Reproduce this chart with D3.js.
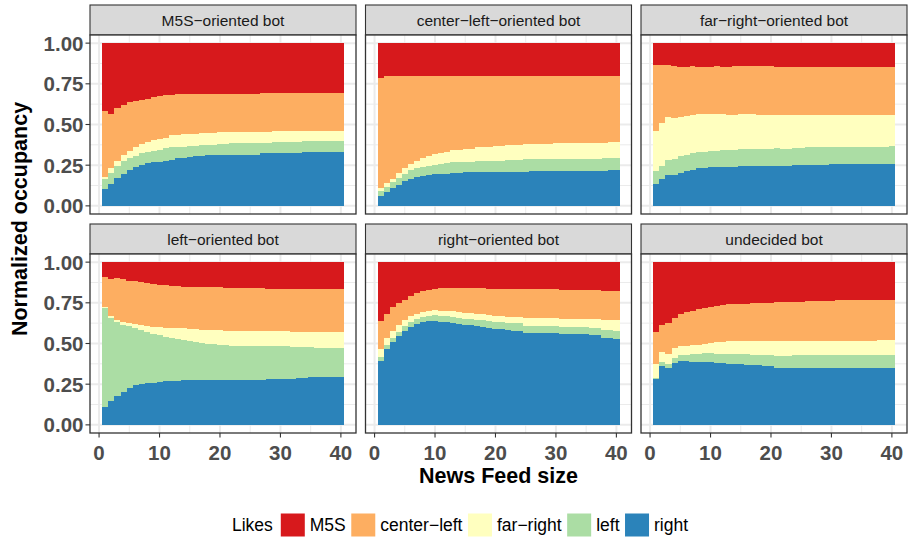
<!DOCTYPE html>
<html><head><meta charset="utf-8">
<script src="https://cdn.jsdelivr.net/npm/d3@7"></script>
<style>body{margin:0;background:#fff} svg{display:block}</style>
</head><body><svg id="chart" width="909" height="544"></svg>
<script>
// ---------- DATA ----------
const newsFeedSize = [1,2,3,4,5,6,7,8,9,10,11,12,13,14,15,16,17,18,19,20,21,22,23,24,25,26,27,28,29,30,31,32,33,34,35,36,37,38,39,40];
const stackOrder = ["right","left","far-right","center-left","M5S"];       // bottom -> top
const legendOrder = ["M5S","center-left","far-right","left","right"];
const legendTitle = "Likes";
const panelTitles = ["M5S\u2212oriented bot","center\u2212left\u2212oriented bot","far\u2212right\u2212oriented bot","left\u2212oriented bot","right\u2212oriented bot","undecided bot"];
const legendLabels = {"M5S":"M5S","center-left":"center\u2212left","far-right":"far\u2212right","left":"left","right":"right"};
const yTicks = [0,0.25,0.5,0.75,1];
const yTickLabels = ["0.00","0.25","0.50","0.75","1.00"];
const xTicks = [0,10,20,30,40];
const xTitle = "News Feed size";
const yTitle = "Normalized occupancy";

// M5S-oriented bot
const m5sBot_right = [0.102,0.133,0.169,0.194,0.218,0.237,0.249,0.261,0.267,0.271,0.278,0.284,0.292,0.292,0.300,0.304,0.304,0.310,0.310,0.310,0.314,0.314,0.314,0.314,0.314,0.314,0.322,0.322,0.322,0.322,0.322,0.322,0.322,0.329,0.329,0.329,0.329,0.329,0.329,0.329];
const m5sBot_left = [0.061,0.067,0.074,0.079,0.074,0.067,0.073,0.068,0.068,0.070,0.075,0.075,0.071,0.071,0.069,0.065,0.069,0.063,0.063,0.068,0.064,0.070,0.070,0.070,0.070,0.070,0.066,0.066,0.068,0.068,0.068,0.068,0.068,0.067,0.067,0.067,0.067,0.067,0.067,0.067];
const m5sBot_farRight = [0.013,0.031,0.030,0.037,0.043,0.055,0.056,0.061,0.067,0.067,0.067,0.074,0.070,0.076,0.070,0.070,0.072,0.072,0.072,0.073,0.073,0.067,0.067,0.067,0.067,0.067,0.063,0.063,0.067,0.067,0.067,0.067,0.067,0.067,0.067,0.067,0.067,0.067,0.067,0.067];
const m5sBot_centerLeft = [0.406,0.336,0.329,0.312,0.306,0.288,0.275,0.269,0.267,0.268,0.262,0.251,0.257,0.251,0.251,0.251,0.245,0.245,0.245,0.239,0.239,0.239,0.239,0.239,0.239,0.239,0.243,0.243,0.239,0.239,0.239,0.239,0.239,0.233,0.233,0.233,0.233,0.233,0.233,0.233];
const m5sBot_M5S = [0.418,0.433,0.398,0.378,0.359,0.353,0.347,0.341,0.331,0.324,0.318,0.316,0.310,0.310,0.310,0.310,0.310,0.310,0.310,0.310,0.310,0.310,0.310,0.310,0.310,0.310,0.306,0.306,0.304,0.304,0.304,0.304,0.304,0.304,0.304,0.304,0.304,0.304,0.304,0.304];

// center-left-oriented bot
const clBot_right = [0.059,0.084,0.108,0.127,0.151,0.163,0.176,0.182,0.188,0.194,0.194,0.194,0.200,0.200,0.206,0.206,0.206,0.206,0.206,0.206,0.206,0.206,0.206,0.206,0.206,0.212,0.212,0.212,0.212,0.212,0.212,0.212,0.212,0.212,0.212,0.212,0.212,0.212,0.218,0.218];
const clBot_left = [0.031,0.030,0.037,0.042,0.043,0.055,0.055,0.055,0.055,0.055,0.061,0.067,0.067,0.067,0.061,0.061,0.067,0.067,0.067,0.067,0.067,0.074,0.074,0.074,0.080,0.074,0.074,0.074,0.074,0.074,0.074,0.074,0.074,0.074,0.074,0.074,0.074,0.080,0.074,0.074];
const clBot_farRight = [0.018,0.025,0.018,0.031,0.037,0.037,0.042,0.055,0.061,0.067,0.067,0.068,0.074,0.074,0.080,0.080,0.086,0.086,0.086,0.092,0.092,0.091,0.091,0.091,0.092,0.092,0.092,0.092,0.092,0.098,0.098,0.098,0.098,0.098,0.098,0.098,0.098,0.092,0.098,0.098];
const clBot_centerLeft = [0.680,0.659,0.635,0.598,0.567,0.543,0.525,0.506,0.494,0.482,0.476,0.469,0.457,0.457,0.451,0.451,0.439,0.439,0.439,0.433,0.433,0.427,0.427,0.427,0.420,0.420,0.420,0.420,0.420,0.414,0.414,0.414,0.414,0.414,0.414,0.414,0.414,0.414,0.408,0.408];
const clBot_M5S = [0.212,0.202,0.202,0.202,0.202,0.202,0.202,0.202,0.202,0.202,0.202,0.202,0.202,0.202,0.202,0.202,0.202,0.202,0.202,0.202,0.202,0.202,0.202,0.202,0.202,0.202,0.202,0.202,0.202,0.202,0.202,0.202,0.202,0.202,0.202,0.202,0.202,0.202,0.202,0.202];

// far-right-oriented bot
const frBot_right = [0.133,0.163,0.188,0.188,0.200,0.212,0.218,0.231,0.231,0.237,0.237,0.237,0.237,0.237,0.243,0.243,0.243,0.243,0.243,0.243,0.243,0.243,0.243,0.249,0.249,0.249,0.249,0.249,0.249,0.255,0.255,0.255,0.255,0.255,0.255,0.255,0.255,0.255,0.255,0.255];
const frBot_left = [0.079,0.080,0.092,0.098,0.104,0.098,0.104,0.098,0.098,0.098,0.098,0.104,0.104,0.104,0.104,0.104,0.104,0.104,0.104,0.104,0.110,0.104,0.104,0.104,0.104,0.110,0.110,0.110,0.110,0.104,0.104,0.104,0.104,0.104,0.104,0.104,0.104,0.104,0.104,0.110];
const frBot_farRight = [0.251,0.269,0.269,0.257,0.245,0.245,0.239,0.238,0.238,0.232,0.232,0.226,0.220,0.220,0.220,0.220,0.220,0.214,0.214,0.214,0.208,0.214,0.214,0.208,0.208,0.202,0.202,0.202,0.202,0.202,0.202,0.202,0.202,0.202,0.202,0.202,0.202,0.202,0.202,0.196];
const frBot_centerLeft = [0.404,0.355,0.318,0.318,0.308,0.300,0.300,0.288,0.288,0.288,0.294,0.288,0.294,0.300,0.294,0.294,0.294,0.300,0.300,0.300,0.294,0.294,0.294,0.294,0.294,0.294,0.294,0.294,0.294,0.294,0.294,0.294,0.294,0.294,0.294,0.294,0.294,0.294,0.294,0.294];
const frBot_M5S = [0.133,0.133,0.133,0.139,0.145,0.145,0.139,0.145,0.145,0.145,0.139,0.145,0.145,0.139,0.139,0.139,0.139,0.139,0.139,0.139,0.145,0.145,0.145,0.145,0.145,0.145,0.145,0.145,0.145,0.145,0.145,0.145,0.145,0.145,0.145,0.145,0.145,0.145,0.145,0.145];

// left-oriented bot
const lBot_right = [0.111,0.148,0.178,0.203,0.227,0.242,0.252,0.258,0.260,0.264,0.270,0.270,0.270,0.277,0.277,0.277,0.277,0.277,0.277,0.277,0.277,0.277,0.277,0.277,0.277,0.277,0.277,0.283,0.283,0.283,0.283,0.283,0.289,0.289,0.295,0.295,0.295,0.295,0.295,0.295];
const lBot_left = [0.610,0.510,0.455,0.412,0.382,0.354,0.332,0.314,0.299,0.289,0.271,0.265,0.259,0.246,0.239,0.233,0.227,0.221,0.221,0.215,0.215,0.209,0.209,0.209,0.209,0.209,0.209,0.203,0.203,0.203,0.203,0.197,0.191,0.191,0.185,0.178,0.178,0.178,0.178,0.178];
const lBot_farRight = [0.004,0.012,0.012,0.018,0.018,0.025,0.031,0.037,0.043,0.049,0.055,0.061,0.067,0.073,0.074,0.080,0.080,0.086,0.086,0.092,0.086,0.092,0.092,0.092,0.092,0.092,0.092,0.092,0.092,0.092,0.092,0.092,0.092,0.092,0.092,0.099,0.099,0.099,0.099,0.099];
const lBot_centerLeft = [0.185,0.228,0.259,0.265,0.258,0.264,0.264,0.264,0.265,0.259,0.265,0.259,0.259,0.252,0.258,0.258,0.264,0.264,0.264,0.264,0.264,0.264,0.264,0.264,0.264,0.264,0.264,0.258,0.258,0.258,0.258,0.264,0.264,0.264,0.264,0.264,0.264,0.264,0.264,0.264];
const lBot_M5S = [0.090,0.102,0.096,0.102,0.115,0.115,0.121,0.127,0.133,0.139,0.139,0.145,0.145,0.152,0.152,0.152,0.152,0.152,0.152,0.152,0.158,0.158,0.158,0.158,0.158,0.158,0.158,0.164,0.164,0.164,0.164,0.164,0.164,0.164,0.164,0.164,0.164,0.164,0.164,0.164];

// right-oriented bot
const rBot_right = [0.393,0.467,0.510,0.547,0.578,0.602,0.621,0.633,0.639,0.639,0.633,0.633,0.627,0.621,0.615,0.615,0.609,0.602,0.596,0.590,0.590,0.584,0.578,0.572,0.566,0.566,0.566,0.566,0.566,0.566,0.559,0.559,0.559,0.559,0.559,0.553,0.553,0.535,0.535,0.529];
const rBot_left = [0.025,0.025,0.025,0.025,0.031,0.031,0.031,0.031,0.031,0.037,0.037,0.037,0.037,0.037,0.037,0.037,0.036,0.043,0.043,0.043,0.043,0.043,0.046,0.049,0.043,0.043,0.043,0.043,0.043,0.043,0.043,0.043,0.043,0.043,0.043,0.043,0.043,0.049,0.049,0.049];
const rBot_farRight = [0.049,0.043,0.043,0.043,0.036,0.037,0.030,0.031,0.031,0.031,0.031,0.031,0.037,0.037,0.037,0.037,0.037,0.037,0.037,0.037,0.037,0.037,0.037,0.037,0.049,0.049,0.049,0.049,0.049,0.049,0.050,0.050,0.050,0.050,0.050,0.056,0.056,0.061,0.061,0.067];
const rBot_centerLeft = [0.172,0.147,0.147,0.135,0.123,0.123,0.129,0.129,0.129,0.129,0.141,0.141,0.141,0.147,0.153,0.153,0.160,0.160,0.160,0.166,0.166,0.172,0.172,0.172,0.178,0.178,0.178,0.178,0.178,0.178,0.178,0.178,0.178,0.178,0.178,0.178,0.178,0.179,0.179,0.179];
const rBot_M5S = [0.361,0.318,0.275,0.250,0.232,0.207,0.189,0.176,0.170,0.164,0.158,0.158,0.158,0.158,0.158,0.158,0.158,0.158,0.164,0.164,0.164,0.164,0.164,0.164,0.164,0.164,0.164,0.164,0.164,0.164,0.170,0.170,0.170,0.170,0.170,0.170,0.170,0.176,0.176,0.176];

// undecided bot
const uBot_right = [0.283,0.363,0.350,0.381,0.393,0.393,0.387,0.387,0.387,0.387,0.381,0.381,0.375,0.375,0.375,0.369,0.369,0.369,0.363,0.363,0.350,0.350,0.350,0.350,0.350,0.350,0.350,0.350,0.350,0.350,0.350,0.350,0.350,0.350,0.350,0.350,0.350,0.350,0.350,0.350];
const uBot_left = [0.006,0.024,0.025,0.031,0.037,0.037,0.049,0.049,0.056,0.056,0.055,0.055,0.061,0.061,0.061,0.067,0.061,0.061,0.067,0.067,0.074,0.074,0.074,0.080,0.080,0.080,0.080,0.080,0.080,0.080,0.080,0.080,0.080,0.080,0.080,0.080,0.080,0.080,0.080,0.080];
const uBot_farRight = [0.086,0.062,0.061,0.061,0.056,0.056,0.056,0.056,0.055,0.061,0.074,0.074,0.080,0.080,0.080,0.080,0.086,0.086,0.086,0.086,0.092,0.092,0.092,0.086,0.086,0.086,0.086,0.086,0.086,0.086,0.086,0.086,0.086,0.086,0.086,0.086,0.086,0.093,0.093,0.093];
const uBot_centerLeft = [0.197,0.166,0.191,0.185,0.196,0.209,0.209,0.221,0.221,0.221,0.222,0.228,0.226,0.228,0.228,0.228,0.234,0.234,0.234,0.234,0.240,0.240,0.240,0.240,0.240,0.246,0.246,0.246,0.246,0.246,0.252,0.252,0.252,0.252,0.252,0.252,0.252,0.245,0.245,0.245];
const uBot_M5S = [0.428,0.385,0.373,0.342,0.318,0.305,0.299,0.287,0.281,0.275,0.268,0.262,0.258,0.256,0.256,0.256,0.250,0.250,0.250,0.250,0.244,0.244,0.244,0.244,0.244,0.238,0.238,0.238,0.238,0.238,0.232,0.232,0.232,0.232,0.232,0.232,0.232,0.232,0.232,0.232];

const colors = {"M5S":"#D7191C","center-left":"#FDAE61","far-right":"#FFFFBF","left":"#ABDDA4","right":"#2B83BA"};

const panelSeries = [
  {right:m5sBot_right,left:m5sBot_left,"far-right":m5sBot_farRight,"center-left":m5sBot_centerLeft,M5S:m5sBot_M5S},
  {right:clBot_right,left:clBot_left,"far-right":clBot_farRight,"center-left":clBot_centerLeft,M5S:clBot_M5S},
  {right:frBot_right,left:frBot_left,"far-right":frBot_farRight,"center-left":frBot_centerLeft,M5S:frBot_M5S},
  {right:lBot_right,left:lBot_left,"far-right":lBot_farRight,"center-left":lBot_centerLeft,M5S:lBot_M5S},
  {right:rBot_right,left:rBot_left,"far-right":rBot_farRight,"center-left":rBot_centerLeft,M5S:rBot_M5S},
  {right:uBot_right,left:uBot_left,"far-right":uBot_farRight,"center-left":uBot_centerLeft,M5S:uBot_M5S}
];

// ---------- LAYOUT ----------
const svg = d3.select("#chart");
const font = "'Liberation Sans', Arial, Helvetica, sans-serif";
const colX = [90, 365.5, 641];
const panelW = 266, panelH = 179, stripH = 30;
const rowTop = [5, 224]; // strip tops
const x = d3.scaleLinear().domain([-1.5, 42.5]).range([0, panelW]);
const y = d3.scaleLinear().domain([-0.05, 1.05]).range([panelH, 0]);
const stack = d3.stack().keys(stackOrder).offset(d3.stackOffsetExpand);

panelSeries.forEach((ps, i) => {
  const col = i % 3, row = Math.floor(i / 3);
  const gx = colX[col], sy = rowTop[row], py = sy + stripH;
  // strip
  svg.append("rect").attr("x", gx).attr("y", sy).attr("width", panelW).attr("height", stripH)
    .attr("fill", "#D9D9D9").attr("stroke", "#333333").attr("stroke-width", 1.1);
  svg.append("text").attr("x", gx + panelW / 2).attr("y", sy + stripH / 2)
    .attr("text-anchor", "middle").attr("dominant-baseline", "central")
    .attr("font-family", font).attr("font-size", 15.5).attr("fill", "#1A1A1A").text(panelTitles[i]);
  const g = svg.append("g").attr("transform", `translate(${gx},${py})`);
  g.append("rect").attr("width", panelW).attr("height", panelH).attr("fill", "#fff");
  // grid
  const minorX = [5, 15, 25, 35], minorY = [0.125, 0.375, 0.625, 0.875];
  g.selectAll(".mx").data(minorX).join("line").attr("x1", d => x(d)).attr("x2", d => x(d)).attr("y1", 0).attr("y2", panelH)
    .attr("stroke", "#EBEBEB").attr("stroke-width", 1);
  g.selectAll(".my").data(minorY).join("line").attr("y1", d => y(d)).attr("y2", d => y(d)).attr("x1", 0).attr("x2", panelW)
    .attr("stroke", "#EBEBEB").attr("stroke-width", 1);
  g.selectAll(".gx").data(xTicks).join("line").attr("x1", d => x(d)).attr("x2", d => x(d)).attr("y1", 0).attr("y2", panelH)
    .attr("stroke", "#EBEBEB").attr("stroke-width", 2);
  g.selectAll(".gy").data(yTicks).join("line").attr("y1", d => y(d)).attr("y2", d => y(d)).attr("x1", 0).attr("x2", panelW)
    .attr("stroke", "#EBEBEB").attr("stroke-width", 2);
  // bars
  const rows = newsFeedSize.map((n, k) => {
    const o = {n};
    stackOrder.forEach(s => o[s] = ps[s][k]);
    return o;
  });
  const st = stack(rows);
  st.forEach(layer => {
    g.append("g").attr("fill", colors[layer.key]).attr("shape-rendering", "crispEdges")
      .selectAll("rect").data(layer).join("rect")
      .attr("x", d => x(d.data.n - 0.5))
      .attr("width", d => x(d.data.n + 0.5) - x(d.data.n - 0.5) + 0.3)
      .attr("y", d => y(d[1]))
      .attr("height", d => y(d[0]) - y(d[1]));
  });
  // border
  g.append("rect").attr("width", panelW).attr("height", panelH).attr("fill", "none")
    .attr("stroke", "#333333").attr("stroke-width", 1.3);
  // y axis on first column
  if (col === 0) {
    const ya = g.append("g");
    ya.selectAll("line").data(yTicks).join("line").attr("x1", -4.5).attr("x2", 0)
      .attr("y1", d => y(d)).attr("y2", d => y(d)).attr("stroke", "#333333").attr("stroke-width", 1.1);
    ya.selectAll("text").data(yTicks).join("text").attr("x", -6.5).attr("y", d => y(d))
      .attr("text-anchor", "end").attr("dominant-baseline", "central")
      .attr("font-family", font).attr("font-weight", "bold").attr("font-size", 20.5).attr("fill", "#4D4D4D")
      .text((d, k) => yTickLabels[k]);
  }
  // x axis on bottom row
  if (row === 1) {
    const xa = g.append("g");
    xa.selectAll("line").data(xTicks).join("line").attr("y1", panelH).attr("y2", panelH + 4.5)
      .attr("x1", d => x(d)).attr("x2", d => x(d)).attr("stroke", "#333333").attr("stroke-width", 1.1);
    xa.selectAll("text").data(xTicks).join("text").attr("x", d => x(d)).attr("y", panelH + 19)
      .attr("text-anchor", "middle").attr("dominant-baseline", "central")
      .attr("font-family", font).attr("font-weight", "bold").attr("font-size", 20.5).attr("fill", "#4D4D4D")
      .text(d => d);
  }
});

// axis titles
svg.append("text").attr("x", (colX[0] + colX[2] + panelW) / 2).attr("y", 476)
  .attr("text-anchor", "middle").attr("dominant-baseline", "central")
  .attr("font-family", font).attr("font-weight", "bold").attr("font-size", 21.5).attr("fill", "#000").text(xTitle);
svg.append("text").attr("transform", `translate(20,${(rowTop[0] + rowTop[1] + stripH + panelH) / 2}) rotate(-90)`)
  .attr("text-anchor", "middle").attr("dominant-baseline", "central")
  .attr("font-family", font).attr("font-weight", "bold").attr("font-size", 21.5).attr("fill", "#000").text(yTitle);

// legend
const lg = svg.append("g");
const ly = 525;
let cx = 0;
const t = lg.append("text").attr("x", cx).attr("y", ly).attr("dominant-baseline", "central")
  .attr("font-family", font).attr("font-size", 17.5).attr("fill", "#000").text(legendTitle);
cx += t.node().getComputedTextLength() + 8;
legendOrder.forEach(k => {
  lg.append("rect").attr("x", cx).attr("y", ly - 11.5).attr("width", 24).attr("height", 23).attr("fill", colors[k]);
  cx += 24 + 5;
  const tt = lg.append("text").attr("x", cx).attr("y", ly).attr("dominant-baseline", "central")
    .attr("font-family", font).attr("font-size", 17.5).attr("fill", "#000").text(legendLabels[k]);
  cx += tt.node().getComputedTextLength() + 5.5;
});
const totalW = cx - 5.5;
lg.attr("transform", `translate(${460 - totalW / 2},0)`);
</script>
</body></html>
